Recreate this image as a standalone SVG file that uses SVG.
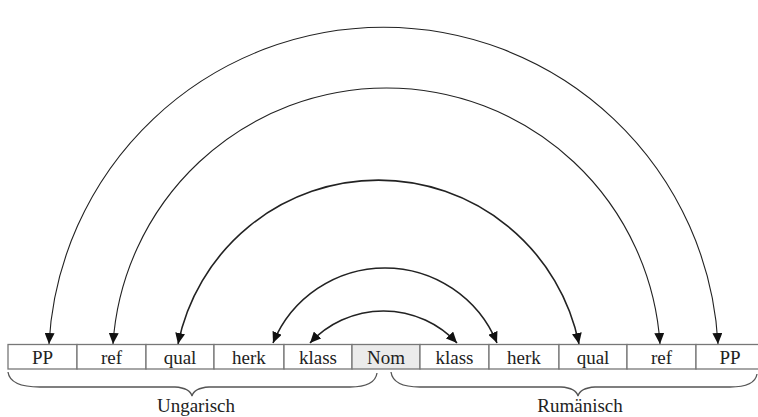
<svg xmlns="http://www.w3.org/2000/svg" width="758" height="417" viewBox="0 0 758 417">
  <style>
    .cell { fill: #ffffff; stroke: #777777; stroke-width: 1.3; }
    .nom { fill: #ebebeb; }
    .lbl { font-family: "Liberation Serif", "Times New Roman", serif; font-size: 19px; fill: #222222; text-anchor: middle; }
    .arc { fill: none; stroke: #222222; marker-start: url(#head); marker-end: url(#head); }
    .thin { stroke-width: 1.1; }
    .thick { stroke-width: 1.6; }
    .brace { fill: none; stroke: #555555; stroke-width: 1.3; }
  </style>
  <defs>
    <marker id="head" markerUnits="userSpaceOnUse" markerWidth="12" markerHeight="10" refX="11" refY="5" orient="auto-start-reverse">
      <path d="M0,0 L11,5 L0,10 Z" fill="#111111"/>
    </marker>
  </defs>
  <rect width="758" height="417" fill="#ffffff"/>

  <!-- connectors: paired positions, arrows at both ends -->
  <g id="connectors">
    <path class="arc thin" d="M49,344 A335 335 0 0 1 718,344"/>
    <path class="arc thin" d="M113,344 A274.1 274.1 0 0 1 660,344"/>
    <path class="arc thick" d="M178,344 A204.6 204.6 0 0 1 579,344"/>
    <path class="arc thick" d="M273,343 A121.1 121.1 0 0 1 497,343"/>
    <path class="arc thick" d="M310,343 A100.4 100.4 0 0 1 457,343"/>
  </g>

  <!-- row of slots -->
  <g id="u-pp"><rect class="cell" x="8" y="344.5" width="69" height="24.5"/><text class="lbl" x="42.5" y="364">PP</text></g>
  <g id="u-ref"><rect class="cell" x="77" y="344.5" width="69" height="24.5"/><text class="lbl" x="111.5" y="364">ref</text></g>
  <g id="u-qual"><rect class="cell" x="146" y="344.5" width="68" height="24.5"/><text class="lbl" x="180" y="364">qual</text></g>
  <g id="u-herk"><rect class="cell" x="214" y="344.5" width="70" height="24.5"/><text class="lbl" x="249" y="364">herk</text></g>
  <g id="u-klass"><rect class="cell" x="284" y="344.5" width="68" height="24.5"/><text class="lbl" x="318" y="364">klass</text></g>
  <g id="nom"><rect class="cell nom" x="352" y="344.5" width="68" height="24.5"/><text class="lbl" x="386" y="364">Nom</text></g>
  <g id="r-klass"><rect class="cell" x="420" y="344.5" width="69" height="24.5"/><text class="lbl" x="454.5" y="364">klass</text></g>
  <g id="r-herk"><rect class="cell" x="489" y="344.5" width="70" height="24.5"/><text class="lbl" x="524" y="364">herk</text></g>
  <g id="r-qual"><rect class="cell" x="559" y="344.5" width="68" height="24.5"/><text class="lbl" x="593" y="364">qual</text></g>
  <g id="r-ref"><rect class="cell" x="627" y="344.5" width="69" height="24.5"/><text class="lbl" x="661.5" y="364">ref</text></g>
  <g id="r-pp"><rect class="cell" x="696" y="344.5" width="69" height="24.5"/><text class="lbl" x="730" y="364">PP</text></g>

  <!-- group braces -->
  <g id="ungarisch">
    <path class="brace" d="M8,372 Q10,387 40,387 L175,387 Q190,388 192,396 Q194,388 209,387 L350,387 Q375,387 377,373"/>
    <text class="lbl" x="196" y="412">Ungarisch</text>
  </g>
  <g id="rumaenisch">
    <path class="brace" d="M391,372 Q393,387 420,387 L561,387 Q576,388 578,396 Q580,388 595,387 L730,387 Q755,387 757,374"/>
    <text class="lbl" x="580" y="412">Rumänisch</text>
  </g>
</svg>
